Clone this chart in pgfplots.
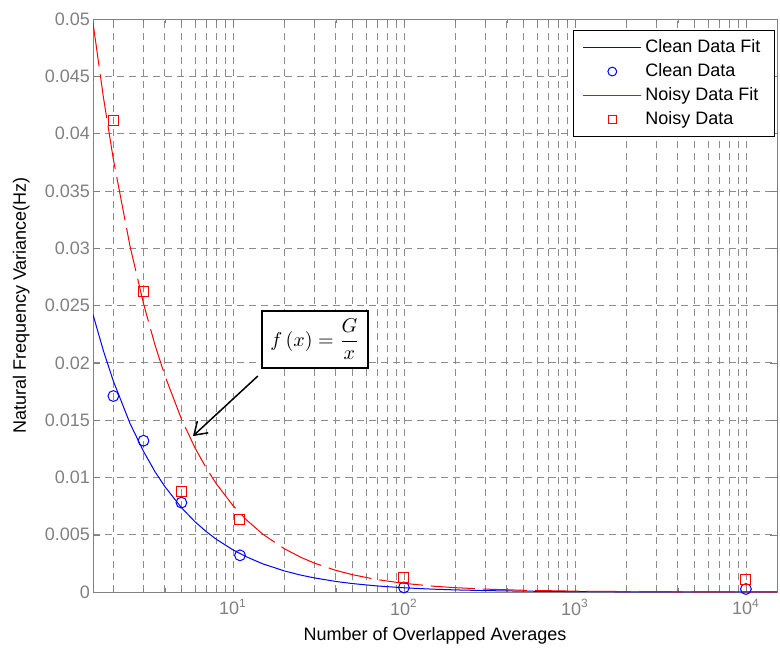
\documentclass[border=0pt]{standalone}
\usepackage{pgfplots}
\pgfplotsset{compat=1.18}
\usepackage{fontspec}
\setmainfont{Liberation Sans}
\usetikzlibrary{arrows.meta}
\definecolor{axgray}{gray}{0.5}
\definecolor{gridgray}{gray}{0.55}
\newcommand{\chartfont}{\fontsize{9}{10.8}\selectfont}

\begin{document}
\begin{tikzpicture}
\useasboundingbox (-46.5pt,-28.5pt) rectangle (343.5pt,296pt);
\begin{semilogxaxis}[
  at={(0,0)}, anchor=south west,
  scale only axis, width=342pt, height=286.5pt,
  log basis x=10,
  xmin=1.52, xmax=15200, ymin=0, ymax=0.05,
  xtick={10,100,1000,10000},
  xticklabels={10\textsuperscript{1},10\textsuperscript{2},10\textsuperscript{3},10\textsuperscript{4}},
  minor xtick={2,3,4,5,6,7,8,9,20,30,40,50,60,70,80,90,200,300,400,500,600,700,800,900,2000,3000,4000,5000,6000,7000,8000,9000},
  ytick={0,0.005,0.01,0.015,0.02,0.025,0.03,0.035,0.04,0.045,0.05},
  scaled y ticks=false,
  yticklabel style={/pgf/number format/fixed,/pgf/number format/precision=3,
    /pgf/number format/assume math mode=true, xshift=2pt},
  tick label style={font=\chartfont, text=axgray},
  every axis y label/.style={at={(axis description cs:-0.105,0.5)},rotate=90,anchor=center,font=\chartfont},
  every axis x label/.style={at={(axis description cs:0.5,-0.0768)},anchor=center,font=\chartfont},
  xlabel={Number of Overlapped Averages},
  ylabel={Natural Frequency Variance(Hz)},
  axis line style={axgray},
  tick style={axgray},
  major tick length=3.5pt, minor tick length=2pt,
  xmajorgrids, xminorgrids, ymajorgrids,
  major grid style={gridgray, dash pattern=on 3.5pt off 2.5pt, line width=0.4pt},
  minor grid style={gridgray, dash pattern=on 3.5pt off 2.5pt, line width=0.4pt},
  legend style={at={(axis description cs:0.997,0.981)}, anchor=north east,
    font=\chartfont, line width=0.6pt,
    cells={anchor=west}, row sep=0pt, inner xsep=5pt, inner ysep=2.5pt},
  legend image code/.code={\draw[mark repeat=2,mark phase=2,#1] plot coordinates {(0pt,0pt)(14.5pt,0pt)(29pt,0pt)};},
]
% clean data fit
\addplot[blue, line width=0.5pt, forget plot] coordinates {
(1.52,0.02421) (1.75,0.02103) (2,0.0184) (2.5,0.01472) (3,0.01227) (3.5,0.01051)
(4,0.0092) (5,0.00736) (6,0.00613) (7,0.00526) (8,0.0046) (10,0.00368)
(12,0.00307) (15,0.00245) (20,0.00184) (25,0.00147) (30,0.00123) (40,0.00092)
(50,0.000736) (70,0.000526) (100,0.000368) (150,0.000245) (200,0.000184)
(300,0.000123) (500,0.0000736) (1000,0.0000368) (2000,0.0000184)
(5000,0.0000074) (10000,0.0000037) (15200,0.0000024)
};
% clean data
\addplot[blue, only marks, mark=o, mark size=2.7pt, line width=0.5pt, forget plot] coordinates {
(2,0.0171) (3,0.0132) (5,0.0078) (11,0.0032) (100,0.0004) (10000,0.00026)
};
% noisy data fit
\addplot[red, line width=0.5pt, dash pattern=on 22pt off 4pt, forget plot] coordinates {
(1.52,0.04967) (1.75,0.04314) (2,0.03775) (2.5,0.0302) (3,0.02517) (3.5,0.02157)
(4,0.01888) (5,0.0151) (6,0.01258) (7,0.01079) (8,0.00944) (10,0.00755)
(12,0.00629) (15,0.00503) (20,0.003775) (25,0.00302) (30,0.002517) (40,0.001888)
(50,0.00151) (70,0.001079) (100,0.000755) (150,0.000503) (200,0.000378)
(300,0.000252) (500,0.000151) (1000,0.0000755) (2000,0.0000378)
(5000,0.0000151) (10000,0.0000076) (15200,0.000005)
};
% noisy data
\addplot[red, only marks, mark=square, mark size=2.5pt, line width=0.5pt, forget plot] coordinates {
(2,0.0411) (3,0.0262) (5,0.0088) (11,0.0063) (100,0.0013) (10000,0.00105)
};

\addlegendimage{blue, only marks, mark=-, mark size=14.5pt, line width=0.5pt}
\addlegendentry{Clean Data Fit}
\addlegendimage{blue, only marks, mark=o, mark size=2.2pt, line width=0.5pt}
\addlegendentry{Clean Data}
\addlegendimage{red, only marks, mark=-, mark size=14.5pt, line width=0.5pt}
\addlegendentry{Noisy Data Fit}
\addlegendimage{red, only marks, mark=square, mark size=2pt, line width=0.5pt}
\addlegendentry{Noisy Data}

\draw[black, line width=0.75pt, -{Straight Barb[length=6pt,width=8pt]}]
  (axis cs:14.0,0.01885) -- (axis cs:5.84,0.01361);
\node[draw=black, line width=0.75pt, fill=white, minimum width=53pt, minimum height=28.5pt, inner sep=0pt]
  at (axis cs:30.2,0.02203) {\fontsize{10}{12}\selectfont $\displaystyle f\left(x\right)=\frac{G}{x}$};
\end{semilogxaxis}
\end{tikzpicture}
\end{document}
